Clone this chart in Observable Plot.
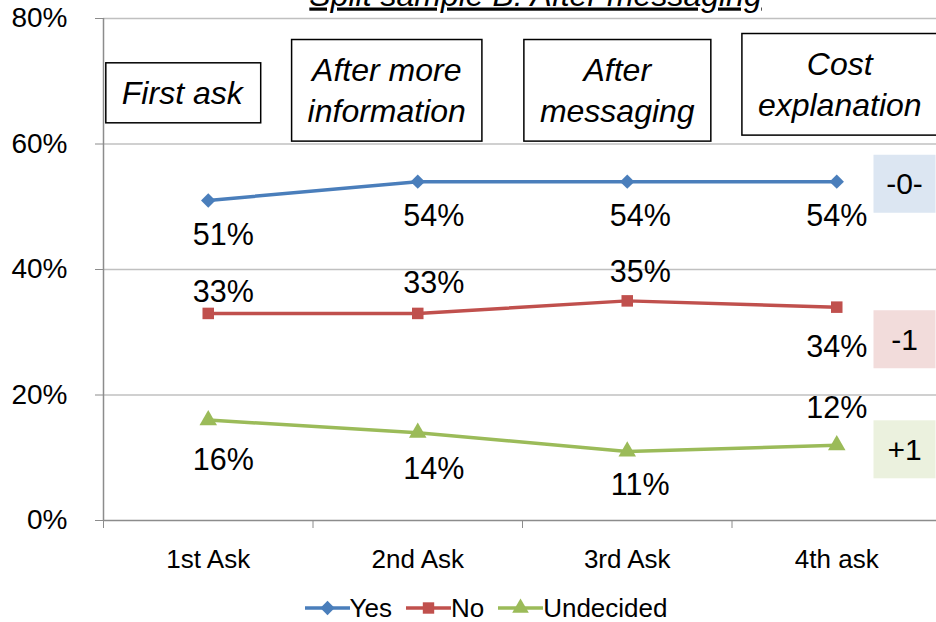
<!DOCTYPE html>
<html>
<head>
<meta charset="utf-8">
<script src="https://cdn.jsdelivr.net/npm/d3@7"></script>
<script src="https://cdn.jsdelivr.net/npm/@observablehq/plot@0.6"></script>
<style>
  html, body { margin: 0; padding: 0; background: white; overflow: hidden; }
  body { width: 936px; height: 622px; font-family: "Liberation Sans", Arial, sans-serif; }
  #legend { height: 36px; display: flex; align-items: center; justify-content: center; padding-left: 50px; font-size: 26px; color: black; }
  #legend .item { display: flex; align-items: center; margin-right: 14px; }
  #legend svg { display: block; }
</style>
</head>
<body>
<div id="chart"></div>
<div id="legend"></div>
<script>
// ---- data ----
const title = "Split sample B: After messaging";
const categories = ["1st Ask", "2nd Ask", "3rd Ask", "4th ask"];
const stages = ["First ask", "After more\ninformation", "After\nmessaging", "Cost\nexplanation"];
const seriesNames = ["Yes", "No", "Undecided"];
const yes = [51, 54, 54, 54];
const no = [33, 33, 35, 34];
const undecided = [16, 14, 11, 12];
const changes = ["-0-", "-1", "+1"];
const yTicks = [0, 20, 40, 60, 80];

// ---- styling / layout ----
const colors = ["#4a7ebb", "#c0504d", "#9bbb59"];
const changeFills = ["#dce6f2", "#f2dcdb", "#ebf1de"];
const symbols = ["diamond2", "square", "triangle"];
const labelDx = [15, 16, 13, 0];
const labelDy = { Yes: [35, 35, 35, 35], No: [-21, -30, -29, 40], Undecided: [40, 37, 34, -37] };
const stageDx = [-26, -31, -10, 3];
const stageDy = [72, 69.5, 69.5, 63.5];
const changeDy = [3, 33, 5];

const seriesValues = [yes, no, undecided];
const rows = [];
seriesNames.forEach((s, k) => seriesValues[k].forEach((v, i) => rows.push({ series: s, i, value: v })));
const lastRows = seriesNames.map((s, k) => ({ series: s, k, i: 3, value: seriesValues[k][3], change: changes[k] }));

const font = "Liberation Sans, Arial, sans-serif";

const marks = [
  Plot.gridY(yTicks.slice(1), { stroke: "#c0c0c0", strokeOpacity: 1, strokeWidth: 1.5 }),
  Plot.ruleX([-0.5], { stroke: "#8c8c8c", strokeWidth: 1.5 }),
  Plot.ruleY([0], { stroke: "#8c8c8c", strokeWidth: 1.5 }),
  Plot.axisY({ ticks: yTicks, tickFormat: d => d + "%", tickSize: 8, tickPadding: 28, fontSize: 28, stroke: "#8c8c8c", label: null }),
  Plot.axisX({ ticks: [-0.5, 0.5, 1.5, 2.5], tickFormat: () => "", tickSize: 8, stroke: "#8c8c8c", label: null }),
  Plot.axisX({ ticks: [0, 1, 2, 3], tickFormat: i => categories[i], tickSize: 0, tickPadding: 29, fontSize: 26, label: null }),
  Plot.line(rows, { x: "i", y: "value", z: "series", stroke: "series", strokeWidth: 3.5 }),
  Plot.dot(rows, { x: "i", y: "value", symbol: "series", fill: "series", r: 6.5, stroke: null }),
  ...rows.map(r => Plot.text([r], {
    x: "i", y: "value", text: d => d.value + "%", fontSize: 30.5, fill: "black",
    dx: labelDx[r.i], dy: labelDy[r.series][r.i]
  })),
  ...stages.map((s, i) => Plot.text([s], {
    x: [i], frameAnchor: "top", lineAnchor: "middle", text: d => d, fontSize: 32, fontStyle: "italic", lineHeight: 1.3,
    dx: stageDx[i], dy: stageDy[i], fill: "black"
  })),
  ...lastRows.map(r => Plot.text([r], {
    y: "value", frameAnchor: "right", lineAnchor: "middle", text: "change", textAnchor: "middle", fontSize: 30,
    dx: -37, dy: changeDy[r.k], fill: "black"
  })),
  Plot.text([title], {
    frameAnchor: "top", text: d => d, fontSize: 32, fontStyle: "italic", lineAnchor: "bottom",
    dx: 13, dy: -13, fill: "black"
  })
];

const chart = Plot.plot({
  width: 936, height: 590,
  marginLeft: 103, marginRight: -5, marginTop: 18, marginBottom: 70,
  style: { fontFamily: font, background: "white", color: "black", overflow: "visible" },
  x: { type: "linear", domain: [-0.5, 3.5] },
  y: { domain: [0, 80] },
  color: { domain: seriesNames, range: colors },
  symbol: { domain: seriesNames, range: symbols },
  marks
});
document.getElementById("chart").append(chart);

const allTexts = Array.from(chart.querySelectorAll("text"));
const NS = "http://www.w3.org/2000/svg";
function boxBehind(t, attrs) {
  const rect = document.createElementNS(NS, "rect");
  for (const [k, v] of Object.entries(attrs)) rect.setAttribute(k, v);
  const tr = t.getAttribute("transform");
  if (tr) rect.setAttribute("transform", tr);
  t.parentNode.insertBefore(rect, t);
}

// underline title
allTexts.filter(t => t.textContent === title).forEach(t => t.setAttribute("text-decoration", "underline"));

// boxes behind stage texts
const stageKeys = stages.map(s => s.replace(/\n/g, ""));
allTexts.filter(t => stageKeys.includes(t.textContent)).forEach(t => {
  const b = t.getBBox();
  const px = 16, py = 14;
  boxBehind(t, {
    x: b.x - px, y: b.y - py + 2, width: b.width + 2 * px, height: b.height + 2 * py - 4,
    fill: "white", stroke: "black", "stroke-width": 1.5
  });
});

// filled boxes behind change texts
allTexts.filter(t => changes.includes(t.textContent)).forEach(t => {
  const k = changes.indexOf(t.textContent);
  const b = t.getBBox();
  const cx = b.x + b.width / 2, cy = b.y + b.height / 2;
  boxBehind(t, { x: cx - 31, y: cy - 29, width: 62, height: 58, fill: changeFills[k] });
});

// legend
const legend = document.getElementById("legend");
const symPaths = [d3.symbol(d3.symbolDiamond2, 130)(), d3.symbol(d3.symbolSquare, 130)(), d3.symbol(d3.symbolTriangle, 120)()];
seriesNames.forEach((s, k) => {
  const item = document.createElement("div");
  item.className = "item";
  item.innerHTML = `<svg width="45" height="20"><line x1="0" x2="45" y1="10" y2="10" stroke="${colors[k]}" stroke-width="3.5"/><path d="${symPaths[k]}" transform="translate(22.5,10)" fill="${colors[k]}"/></svg><span>${s}</span>`;
  legend.append(item);
});
</script>
</body>
</html>
